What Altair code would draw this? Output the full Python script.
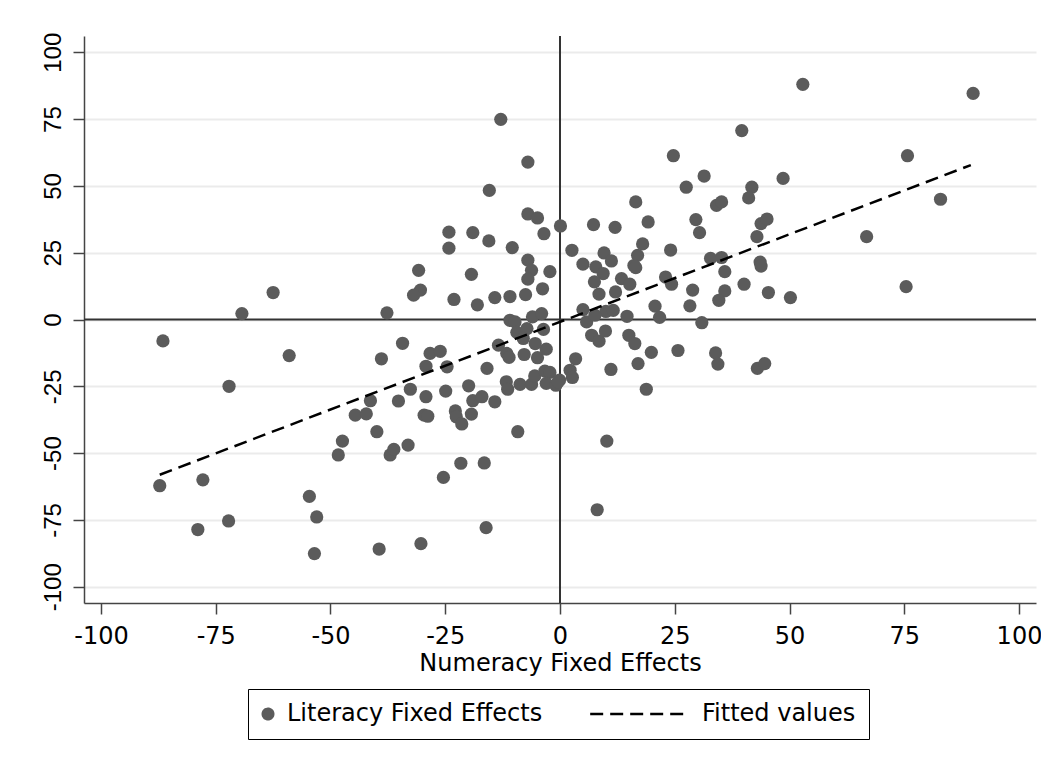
import altair as alt
import pandas as pd

# Numeracy (x) and literacy (y) fixed effects
numeracy_fe = [
    -86.5, -69.3, -62.5, -59.0, -72.1, -87.2, -77.8, -78.9, -72.2, -54.6, -53.0, -53.5,
    -12.9, -7.0, -15.4, -7.0, -4.9, 0.1, -3.5, -24.2, -19.0, -15.5, -10.4, -24.2,
    -7.0, -6.2, -7.0, -2.2, -3.8, -30.8, -30.4, -31.9, -19.3, -23.1, -18.0, -14.2,
    -10.9, -7.5, -37.7, -10.9, -9.8, -6.0, -4.0,
    -9.4, -7.2, -3.6, -13.4, -11.6, -11.1, -7.8, -4.9, -3.0, -5.4, -8.0, -15.9,
    -34.3, -38.9, -28.3, -26.1, -29.2, -24.6, -41.3, -44.6, -42.2, -35.2, -32.6,
    -29.2, -29.6, -28.8, -24.9, -19.9, -19.0, -17.0, -14.2, -22.8, -22.6, -21.4,
    -19.3, -11.7, -11.4, -8.7, -6.2, -5.5, -3.3, -2.2, -3.0, -0.9, -0.1, -39.9,
    -47.4, -48.3, -37.0, -36.2, -33.1, -9.2, -21.6, -16.5, -25.4, -16.1, -30.3, -39.4,
    52.9, 39.6, 24.7, 31.4, 48.6, 27.5, 41.8, 41.1, 34.1, 35.2, 16.5, 29.6, 30.4,
    43.8, 45.1, 42.9, 19.2, 7.3, 12.0, 2.6, 9.6, 11.2, 5.0, 7.8, 9.4, 18.0, 16.9,
    16.1, 16.5, 24.1, 32.8, 35.2, 35.9, 43.6, 43.8, 7.5, 8.5, 12.1, 13.4, 15.2,
    23.0, 24.3, 28.9, 40.1, 45.4, 50.2, 35.9, 34.6, 28.3, 20.7, 5.0, 10.0, 11.6,
    5.8, 7.6, 14.6, 21.7, 30.9, 90.0, 75.7, 82.9, 66.8, 75.4,
    6.9, 8.5, 9.9, 15.0, 16.3, 19.9, 25.7, 33.9, 34.4, 43.0, 44.6, 17.0, 11.1,
    3.4, 2.2, 2.7, -0.4, 18.8, 10.2, 8.1,
]
literacy_fe = [
    -8.0, 2.2, 10.1, -13.5, -25.0, -62.2, -60.0, -78.6, -75.4, -66.2, -73.9, -87.6,
    74.9, 58.9, 48.3, 39.5, 38.0, 35.0, 32.1, 32.7, 32.5, 29.4, 26.9, 26.7,
    22.2, 18.4, 15.1, 17.9, 11.5, 18.4, 11.0, 9.1, 16.9, 7.5, 5.5, 8.2,
    8.6, 9.3, 2.5, -0.3, -0.9, 1.0, 2.2,
    -4.8, -3.4, -3.7, -9.6, -12.7, -14.2, -13.1, -14.3, -11.1, -9.0, -7.1, -18.3,
    -8.9, -14.7, -12.7, -11.9, -17.5, -17.7, -30.4, -35.8, -35.3, -30.5, -26.1,
    -28.9, -35.8, -36.2, -26.8, -24.8, -30.4, -28.9, -30.8, -34.2, -36.4, -39.1,
    -35.4, -23.3, -26.1, -24.3, -24.3, -21.1, -19.3, -19.8, -23.9, -24.6, -22.7, -42.0,
    -45.5, -50.7, -50.7, -48.6, -47.0, -42.0, -53.8, -53.7, -59.1, -77.9, -83.9, -85.9,
    88.0, 70.7, 61.3, 53.7, 52.8, 49.5, 49.5, 45.5, 42.7, 44.0, 44.0, 37.4, 32.5,
    35.9, 37.6, 31.0, 36.5, 35.5, 34.5, 25.9, 24.9, 21.9, 20.7, 19.7, 17.2, 28.3, 24.0,
    20.2, 19.4, 26.0, 22.9, 23.2, 17.9, 21.5, 20.0, 14.1, 9.5, 10.3, 15.3, 13.2,
    15.9, 13.2, 11.0, 13.2, 10.1, 8.2, 10.7, 7.2, 5.1, 5.0, 3.7, 3.0, 3.4,
    -0.9, 1.6, 1.2, 0.8, -1.2, 84.6, 61.3, 45.0, 31.0, 12.3,
    -5.9, -8.1, -4.3, -5.9, -9.0, -12.3, -11.6, -12.5, -16.7, -18.3, -16.5, -16.5, -18.7,
    -14.7, -19.0, -21.7, -23.3, -26.1, -45.5, -71.2,
]

# Fitted regression line end points
fit_x = [-87.2, 89.5]
fit_y = [-58.1, 57.8]

series = ["Literacy Fixed Effects", "Fitted values"]
x_ticks = [-100, -75, -50, -25, 0, 25, 50, 75, 100]
y_ticks = [-100, -75, -50, -25, 0, 25, 50, 75, 100]

pts = pd.DataFrame({"num": numeracy_fe, "lit": literacy_fe, "series": series[0]})
fit = pd.DataFrame({"num": fit_x, "lit": fit_y, "series": series[1]})
zero_v = pd.DataFrame({"num": [0]})
zero_h = pd.DataFrame({"lit": [0]})

xscale = alt.Scale(domain=[-103.7, 103.7], nice=False, zero=False)
yscale = alt.Scale(domain=[-106.1, 106.1], nice=False, zero=False)

xaxis = alt.Axis(
    values=x_ticks, title="Numeracy Fixed Effects", grid=False,
    labelExpr="toString(datum.value)",
    labelFont="DejaVu Sans", labelFontSize=24, labelColor="black",
    labelPadding=10, tickSize=11, tickWidth=1.5, tickColor="#444444",
    domainColor="#444444", domainWidth=1.5, labelFlush=False, labelOverlap=False,
    titleFont="DejaVu Sans", titleFontSize=24, titleFontWeight="normal",
    titleColor="black", titlePadding=3,
)
yaxis = alt.Axis(
    values=y_ticks, title=None, grid=True, gridColor="#ebebeb", gridWidth=2,
    labelExpr="toString(datum.value)",
    labelFont="Liberation Sans", labelFontSize=24, labelColor="black",
    labelAngle=270, labelAlign="center", labelBaseline="alphabetic",
    labelPadding=13, tickSize=11, tickWidth=1.5, tickColor="#444444",
    domainColor="#444444", domainWidth=1.5, labelFlush=False, labelOverlap=False,
)

X = alt.X("num:Q", scale=xscale, axis=xaxis)
Y = alt.Y("lit:Q", scale=yscale, axis=yaxis)

color = alt.Color(
    "series:N",
    scale=alt.Scale(domain=series, range=["#5b5b5b", "#000000"]),
    title=None,
)

vrule = alt.Chart(zero_v).mark_rule(color="#333333", strokeWidth=2).encode(x=X)
hrule = alt.Chart(zero_h).mark_rule(color="#333333", strokeWidth=2).encode(y=Y)

points = alt.Chart(pts).mark_point(filled=True, size=175, opacity=1, strokeWidth=0).encode(
    x=X, y=Y, color=color,
    shape=alt.Shape(
        "series:N",
        scale=alt.Scale(domain=series, range=["circle", "M-17.7,0L1,0"]),
        title=None,
    ),
)

line = alt.Chart(fit).mark_line(strokeWidth=2.5).encode(
    x=X, y=Y, color=color,
    strokeDash=alt.StrokeDash(
        "series:N",
        scale=alt.Scale(domain=series, range=[[1, 0], [13, 7]]),
        title=None,
    ),
)

chart = (
    alt.layer(vrule, hrule, points, line)
    .properties(
        width=952, height=567,
        padding={"left": 76, "top": 28, "right": 5, "bottom": 145},
        autosize=alt.AutoSizeParams(type="none"),
        background="white",
    )
    .configure_view(strokeWidth=0)
    .configure_legend(
        orient="none", legendX=164, legendY=653, direction="horizontal",
        strokeColor="black", padding=13, columnPadding=42,
        labelFont="DejaVu Sans", labelFontSize=24, labelColor="black",
        labelOffset=7, symbolOffset=-5, labelLimit=500, symbolSize=110,
        symbolStrokeWidth=2.5,
    )
)

chart.save("out.html", embed_options={"renderer": "svg", "actions": False})
